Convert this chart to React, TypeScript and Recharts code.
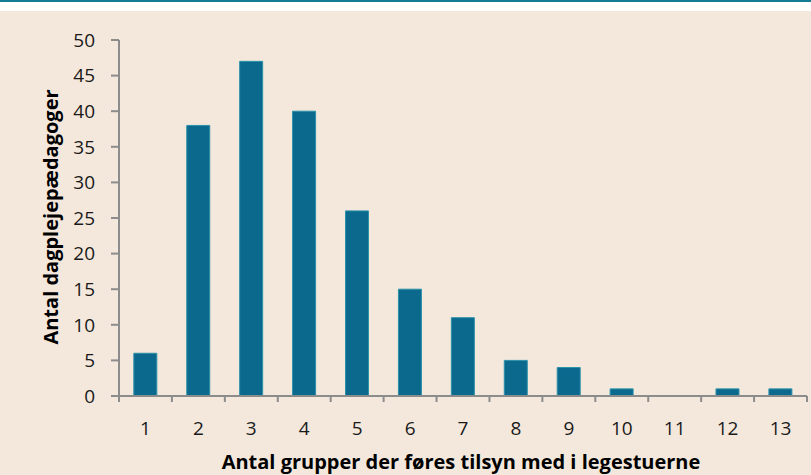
import React from 'react';
import { BarChart, Bar, XAxis, YAxis } from 'recharts';

const groups = ['1', '2', '3', '4', '5', '6', '7', '8', '9', '10', '11', '12', '13'];
const pedagogues = [6, 38, 47, 40, 26, 15, 11, 5, 4, 1, 0, 1, 1];
const yTicks = [0, 5, 10, 15, 20, 25, 30, 35, 40, 45, 50];
const xTitle = 'Antal grupper der føres tilsyn med i legestuerne';
const yTitle = 'Antal dagplejepædagoger';

const data = groups.map((g, i) => ({ group: g, count: pedagogues[i] }));

const W = 811;
const H = 475;
const LEFT = 119;
const RIGHT = 4;
const BAND = (W - LEFT - RIGHT) / groups.length;
const FONT = '"Open Sans", "DejaVu Sans", sans-serif';

function XTick(props: any) {
    const { x, y, payload, index } = props;
    const left = x - BAND / 2;
    return (
        <g>
            <line x1={left} y1={y - 8} x2={left} y2={y - 2} stroke="#8c8c8c" strokeWidth={2} />
            {index === groups.length - 1 && (
                <line x1={left + BAND} y1={y - 8} x2={left + BAND} y2={y - 2} stroke="#8c8c8c" strokeWidth={2} />
            )}
            <text x={x} y={y + 31} textAnchor="middle" fill="#1a1a1a" fontSize={19} fontFamily={FONT}>
                {payload.value}
            </text>
        </g>
    );
}

export default function App() {
    return (
        <div style={{ position: 'absolute', left: 0, top: 0, width: W, height: H, background: '#f4e8dc' }}>
            <div style={{ position: 'absolute', left: 0, top: 0, width: W, height: 2, background: '#137c97' }} />
            <div style={{ position: 'absolute', left: 0, top: 2, width: W, height: 9, background: '#ffffff' }} />
            <BarChart
                width={W}
                height={H}
                data={data}
                margin={{ top: 40, right: RIGHT, bottom: 0, left: 0 }}
                barCategoryGap="28%"
                style={{ position: 'absolute', left: 0, top: 0 }}
            >
                <XAxis
                    dataKey="group"
                    height={79}
                    stroke="#8c8c8c"
                    strokeWidth={2}
                    tickLine={false}
                    tick={<XTick />}
                    interval={0}
                    label={{
                        content: () => (
                            <text x={461} y={469} textAnchor="middle" fill="#000" fontSize={20} fontWeight={700} fontFamily={FONT}>
                                {xTitle}
                            </text>
                        ),
                    }}
                />
                <YAxis
                    width={LEFT}
                    domain={[0, 50]}
                    ticks={yTicks}
                    interval={0}
                    stroke="#8c8c8c"
                    strokeWidth={2}
                    tickSize={8}
                    tickMargin={16}
                    tick={{ fill: '#1a1a1a', fontSize: 19, fontFamily: FONT }}
                    label={{
                        content: () => (
                            <text
                                x={58}
                                y={217}
                                transform="rotate(-90, 58, 217)"
                                textAnchor="middle"
                                fill="#000"
                                fontSize={20}
                                fontWeight={700}
                                fontFamily={FONT}
                            >
                                {yTitle}
                            </text>
                        ),
                    }}
                />
                <Bar dataKey="count" fill="#0b698e" stroke="#2c91a9" strokeWidth={1} isAnimationActive={false} />
            </BarChart>
        </div>
    );
}
